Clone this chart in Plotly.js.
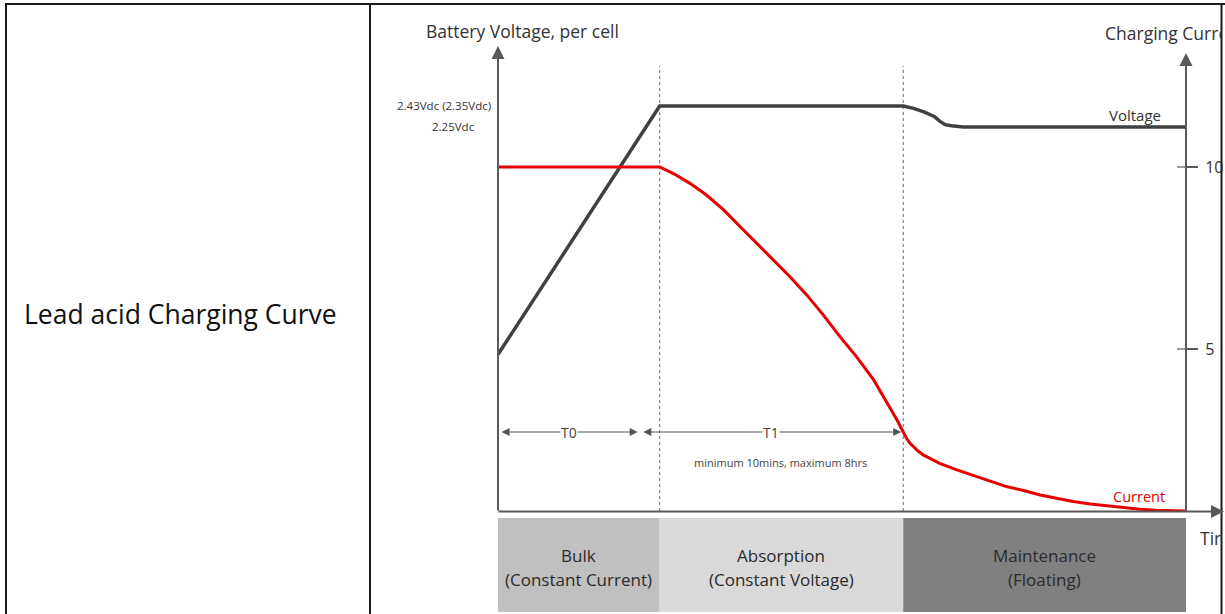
<!DOCTYPE html>
<html>
<head>
<meta charset="utf-8">
<script src="https://cdn.plot.ly/plotly-3.0.1.min.js"></script>
<style>
html,body{margin:0;padding:0;background:#fff;overflow:hidden;}
#chart{width:1225px;height:614px;}
</style>
</head>
<body>
<div id="chart"></div>
<script>
// ---------- data ----------
// time in arbitrary units (0 = start of charge, 100 = end of plotted time)
const timeVoltage = [0, 23.5, 58.9, 60.4, 61.9, 63.4, 64.2, 65.0, 65.9, 67.6, 100];
const voltage     = [0.30, 2.43, 2.43, 2.41, 2.38, 2.34, 2.30, 2.27, 2.26, 2.25, 2.25];

const timeCurrent = [0, 23.5, 25.5, 27.9, 30.3, 32.8, 35.2, 37.6, 40.0, 42.4, 44.9, 47.3,
                     49.7, 52.1, 54.6, 56.5, 58.0, 58.9, 59.4, 59.9, 60.9, 61.8, 64.2,
                     66.7, 69.1, 71.5, 73.9, 76.4, 78.8, 81.2, 83.6, 86.1, 88.5, 90.9,
                     93.3, 95.7, 98.2, 100];
const current     = [10, 10, 9.82, 9.55, 9.23, 8.82, 8.36, 7.91, 7.45, 6.99, 6.48, 5.93,
                     5.34, 4.79, 4.15, 3.55, 3.05, 2.72, 2.54, 2.41, 2.22, 2.09, 1.86,
                     1.68, 1.52, 1.36, 1.22, 1.11, 0.99, 0.90, 0.81, 0.74, 0.69, 0.65,
                     0.60, 0.57, 0.555, 0.55];

const currentTicks = [5, 10];
const voltageLabels = ['2.43Vdc (2.35Vdc)', '2.25Vdc'];
const voltageLabelValues = [2.43, 2.25];

const phaseStart = [0, 23.5, 58.9];
const phaseEnd   = [23.5, 58.9, 100];
const phaseNames = ['Bulk', 'Absorption', 'Maintenance'];
const phaseModes = ['(Constant Current)', '(Constant Voltage)', '(Floating)'];
const phaseColors = ['#c0c0c0', '#d9d9d9', '#808080'];

const periodLabels = ['T0', 'T1'];
const periodFrom = [0.3, 20.9];
const periodTo   = [20.3, 58.6];
const periodNote = 'minimum 10mins, maximum 8hrs';

// ---------- helpers for layout placement ----------
const W = 1225, H = 614;
const px = x => x / W;
const py = y => (H - y) / H;

const FONT = '"Open Sans", Lato, sans-serif';
const AXC = '#595959';
const TXT = '#333333';

const traces = [
  {x: timeVoltage, y: voltage, type: 'scatter', mode: 'lines', yaxis: 'y',
   line: {color: '#404040', width: 3.5}, hoverinfo: 'skip', name: 'Voltage'},
  {x: timeCurrent, y: current, type: 'scatter', mode: 'lines', yaxis: 'y2',
   line: {color: '#e60000', width: 3}, hoverinfo: 'skip', name: 'Current'}
];

const shapes = [];
const annotations = [];
function label(o) {
  return Object.assign({showarrow: false, xanchor: 'center', yanchor: 'middle'}, o);
}

// phase bands below the time axis
for (let i = 0; i < phaseNames.length; i++) {
  shapes.push({type: 'rect', xref: 'x', yref: 'paper', x0: phaseStart[i], x1: phaseEnd[i],
    y0: py(612), y1: py(518), fillcolor: phaseColors[i], line: {width: 0}, layer: 'below'});
  const mid = (phaseStart[i] + phaseEnd[i]) / 2;
  annotations.push(label({xref: 'x', yref: 'paper', x: mid, y: py(555), text: phaseNames[i],
    font: {family: FONT, size: 17, color: '#2b2b2b'}}));
  annotations.push(label({xref: 'x', yref: 'paper', x: mid, y: py(579), text: phaseModes[i],
    font: {family: FONT, size: 17, color: '#2b2b2b'}}));
}
// dotted phase boundaries
for (let i = 1; i < phaseStart.length; i++) {
  shapes.push({type: 'line', xref: 'x', yref: 'paper', x0: phaseStart[i], x1: phaseStart[i],
    y0: py(511), y1: py(66), line: {color: '#666', width: 1, dash: 'dot'}, layer: 'below'});
}
// inner halves of current ticks
currentTicks.forEach(v => {
  shapes.push({type: 'line', xref: 'paper', yref: 'y2', x0: px(1177), x1: px(1186),
    y0: v, y1: v, line: {color: AXC, width: 1.2}});
});

// table borders
const tb = {color: '#1a1a1a', width: 2};
shapes.push({type: 'line', xref: 'paper', yref: 'paper', x0: px(5), x1: 1, y0: py(4), y1: py(4), line: tb, layer: 'above'});
shapes.push({type: 'line', xref: 'paper', yref: 'paper', x0: px(6), x1: px(6), y0: py(4), y1: 0, line: tb, layer: 'above'});
shapes.push({type: 'line', xref: 'paper', yref: 'paper', x0: px(370), x1: px(370), y0: py(4), y1: 0, line: tb, layer: 'above'});
shapes.push({type: 'line', xref: 'paper', yref: 'paper', x0: px(1221.5), x1: px(1221.5), y0: py(4), y1: 0, line: tb, layer: 'above'});

// axes drawn as arrows
annotations.push({xref: 'paper', yref: 'paper', x: px(498), y: py(46), ax: 0, ay: 466,
  axref: 'pixel', ayref: 'pixel', text: '', showarrow: true, arrowhead: 2, arrowsize: 1.3,
  arrowwidth: 2, arrowcolor: AXC});
annotations.push({xref: 'paper', yref: 'paper', x: px(1186), y: py(53), ax: 0, ay: 459,
  axref: 'pixel', ayref: 'pixel', text: '', showarrow: true, arrowhead: 2, arrowsize: 1.3,
  arrowwidth: 2, arrowcolor: AXC});
annotations.push({xref: 'paper', yref: 'paper', x: px(1224), y: py(511.5), ax: -727, ay: 0,
  axref: 'pixel', ayref: 'pixel', text: '', showarrow: true, arrowhead: 2, arrowsize: 1.3,
  arrowwidth: 2, arrowcolor: AXC});

// period arrows T0 / T1
for (let i = 0; i < periodLabels.length; i++) {
  annotations.push({xref: 'x', yref: 'paper', axref: 'x', ayref: 'pixel',
    x: periodTo[i], y: py(432), ax: periodFrom[i], ay: 0, text: '', showarrow: true,
    arrowside: 'end+start', arrowhead: 2, startarrowhead: 2, arrowsize: 1.6, startarrowsize: 1.6,
    arrowwidth: 1, arrowcolor: '#555'});
  annotations.push(label({xref: 'x', yref: 'paper', x: (periodFrom[i] + periodTo[i]) / 2, y: py(432),
    text: periodLabels[i], bgcolor: '#fff', borderpad: 0,
    font: {family: FONT, size: 14, color: '#444'}}));
}
annotations.push(label({xref: 'x', yref: 'paper', x: 41.0, y: py(462), text: periodNote,
  font: {family: FONT, size: 11, color: '#444'}}));

// voltage level labels
annotations.push(label({xref: 'paper', yref: 'y', x: px(444), y: voltageLabelValues[0], text: voltageLabels[0],
  font: {family: FONT, size: 11.5, color: TXT}}));
annotations.push(label({xref: 'paper', yref: 'y', x: px(453), y: voltageLabelValues[1], text: voltageLabels[1],
  font: {family: FONT, size: 11.5, color: TXT}}));

// series labels
annotations.push(label({xref: 'paper', yref: 'paper', x: px(1135), y: py(115), text: 'Voltage',
  font: {family: FONT, size: 15, color: TXT}}));
annotations.push(label({xref: 'paper', yref: 'paper', x: px(1139), y: py(496), text: 'Current',
  font: {family: FONT, size: 14.5, color: '#e60000'}}));

// axis titles
annotations.push(label({xref: 'paper', yref: 'paper', x: px(522), y: py(31), text: 'Battery Voltage, per cell',
  font: {family: FONT, size: 17.5, color: TXT}}));
annotations.push(label({xref: 'paper', yref: 'paper', x: px(1104), y: py(33), xanchor: 'left', align: 'left',
  width: 117, borderpad: 0, text: 'Charging Current',
  font: {family: FONT, size: 17.5, color: TXT}}));
annotations.push(label({xref: 'paper', yref: 'paper', x: px(1199), y: py(538), xanchor: 'left', align: 'left',
  width: 22, borderpad: 0, text: 'Time',
  font: {family: FONT, size: 17.5, color: TXT}}));

// left table cell caption
annotations.push(label({xref: 'paper', yref: 'paper', x: px(22), y: py(314), xanchor: 'left',
  text: 'Lead acid Charging Curve',
  font: {family: '"Open Sans", sans-serif', size: 26.5, color: '#111'}}));

const yDom = [py(511), py(48)];
const layout = {
  width: W, height: H,
  margin: {l: 0, r: 0, t: 0, b: 0},
  paper_bgcolor: '#fff', plot_bgcolor: 'rgba(0,0,0,0)',
  showlegend: false,
  xaxis: {domain: [px(498), px(1186)], range: [0, 100], visible: false, fixedrange: true},
  yaxis: {domain: yDom, range: [-1.041, 2.927], visible: false, fixedrange: true},
  yaxis2: {domain: yDom, range: [0.549, 13.269], overlaying: 'y', side: 'right',
    showline: false, showgrid: false, zeroline: false, tickvals: currentTicks,
    ticks: 'outside', ticklen: 11, tickwidth: 1.2, tickcolor: AXC, ticklabelstandoff: 4,
    tickfont: {family: FONT, size: 16, color: TXT}, fixedrange: true},
  shapes: shapes,
  annotations: annotations
};

Plotly.newPlot('chart', traces, layout, {staticPlot: true, displayModeBar: false});
</script>
</body>
</html>
